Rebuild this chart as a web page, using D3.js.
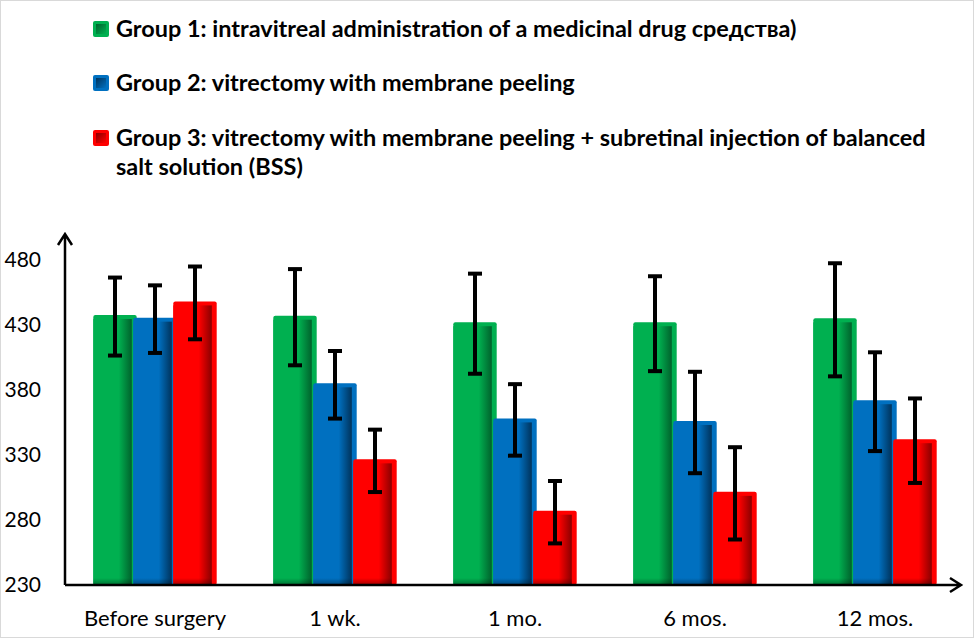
<!DOCTYPE html>
<html>
<head>
<meta charset="utf-8">
<script src="https://cdn.jsdelivr.net/npm/d3@7"></script>
<style>
  body { margin: 0; background: #fff; }
  svg { display: block; font-family: Lato, "Open Sans", sans-serif; }
</style>
</head>
<body>
<svg id="chart"></svg>
<script>
const categories = ["Before surgery", "1 wk.", "1 mo.", "6 mos.", "12 mos."];
const group1 = [436.5, 436, 431, 431, 434];
const group1Err = [30, 37, 38.5, 36.5, 43.5];
const group2 = [434.5, 384, 357, 355, 371];
const group2Err = [26, 26, 27.5, 39, 38];
const group3 = [447, 325.5, 286, 300.5, 341];
const group3Err = [28, 24, 24, 35.5, 32.5];
const yTicks = [230, 280, 330, 380, 430, 480];

const seriesNames = [
    ["Group 1: intravitreal administration of a medicinal drug средства)"],
    ["Group 2: vitrectomy with membrane peeling"],
    ["Group 3: vitrectomy with membrane peeling + subretinal injection of balanced", "salt solution (BSS)"]
];
const colors = ["#00B050", "#0070C0", "#FF0000"];
const darks = ["#00622c", "#00335c", "#8a0000"];

const series = [
    { key: "g1", values: group1, errs: group1Err },
    { key: "g2", values: group2, errs: group2Err },
    { key: "g3", values: group3, errs: group3Err }
];

const svgWidth = 976, svgHeight = 639;
const svg = d3.select("#chart")
    .attr("width", svgWidth)
    .attr("height", svgHeight);

// gradients for the bevelled bars
const defs = svg.append("defs");
series.forEach((s, i) => {
    const g = defs.append("linearGradient")
        .attr("id", "side" + i)
        .attr("x1", "0%").attr("x2", "100%").attr("y1", "0%").attr("y2", "0%");
    g.append("stop").attr("offset", "0%").attr("stop-color", colors[i]);
    g.append("stop").attr("offset", "66%").attr("stop-color", colors[i]);
    g.append("stop").attr("offset", "100%").attr("stop-color", darks[i]);

    const m = defs.append("linearGradient")
        .attr("id", "mark" + i)
        .attr("x1", "0%").attr("x2", "100%").attr("y1", "0%").attr("y2", "100%");
    m.append("stop").attr("offset", "0%").attr("stop-color", darks[i]);
    m.append("stop").attr("offset", "100%").attr("stop-color", colors[i]);
});
const foot = defs.append("linearGradient")
    .attr("id", "foot")
    .attr("x1", "0%").attr("x2", "0%").attr("y1", "0%").attr("y2", "100%");
foot.append("stop").attr("offset", "0%").attr("stop-color", "#000").attr("stop-opacity", 0);
foot.append("stop").attr("offset", "100%").attr("stop-color", "#000").attr("stop-opacity", 0.35);

// chart border
svg.append("rect")
    .attr("x", 0.5).attr("y", 0.5)
    .attr("width", svgWidth - 3).attr("height", svgHeight - 2)
    .attr("fill", "none")
    .attr("stroke", "#d9d9d9");

const x0 = d3.scaleBand()
    .domain(categories)
    .range([65, 965])
    .paddingInner(1 / 3)
    .paddingOuter(1 / 6);

const x1 = d3.scaleBand()
    .domain(series.map(s => s.key))
    .range([0, x0.bandwidth()]);

const y = d3.scaleLinear()
    .domain([230, 480])
    .range([585, 260]);

// y tick labels
svg.append("g")
    .attr("transform", "translate(65,0)")
    .call(d3.axisLeft(y).tickValues(yTicks).tickSize(0).tickPadding(24))
    .call(g => g.select(".domain").remove())
    .selectAll("text")
    .attr("font-family", "Lato, sans-serif")
    .attr("font-size", 21)
    .attr("fill", "#000");

// x labels
svg.append("g")
    .attr("transform", "translate(0,585)")
    .call(d3.axisBottom(x0).tickSize(0).tickPadding(25))
    .call(g => g.select(".domain").remove())
    .selectAll("text")
    .attr("font-family", "Lato, sans-serif")
    .attr("font-size", 22)
    .attr("fill", "#000");

// bars
const over = 1.7;
const groups = svg.append("g")
    .selectAll("g")
    .data(categories)
    .join("g")
    .attr("transform", d => "translate(" + x0(d) + ",0)");

series.forEach((s, i) => {
    const bar = groups.append("g");
    bar.append("rect")
        .attr("x", x1(s.key) - over)
        .attr("y", (d, j) => y(s.values[j]) - 1.5)
        .attr("width", x1.bandwidth() + 2 * over)
        .attr("height", (d, j) => y(230) - y(s.values[j]) + 1.5)
        .attr("rx", 2)
        .attr("fill", colors[i]);
    bar.append("rect")
        .attr("x", x1(s.key) - over)
        .attr("y", (d, j) => y(s.values[j]) + 2.5)
        .attr("width", x1.bandwidth() - 1.5)
        .attr("height", (d, j) => y(230) - y(s.values[j]) - 2.5)
        .attr("fill", "url(#side" + i + ")");
    bar.append("rect")
        .attr("x", x1(s.key) - over)
        .attr("y", y(230) - 7)
        .attr("width", x1.bandwidth() - 1.5)
        .attr("height", 7)
        .attr("fill", "url(#foot)");
});

// error bars
series.forEach((s, i) => {
    const cx = x1(s.key) + x1.bandwidth() / 2;
    const eb = groups.append("g")
        .attr("stroke", "#000")
        .attr("stroke-width", 4);
    eb.append("line")
        .attr("x1", cx).attr("x2", cx)
        .attr("y1", (d, j) => y(s.values[j] + s.errs[j]))
        .attr("y2", (d, j) => y(s.values[j] - s.errs[j]));
    eb.append("line")
        .attr("x1", cx - 7).attr("x2", cx + 7)
        .attr("y1", (d, j) => y(s.values[j] + s.errs[j]))
        .attr("y2", (d, j) => y(s.values[j] + s.errs[j]));
    eb.append("line")
        .attr("x1", cx - 7).attr("x2", cx + 7)
        .attr("y1", (d, j) => y(s.values[j] - s.errs[j]))
        .attr("y2", (d, j) => y(s.values[j] - s.errs[j]));
});

// axes with arrows
const axes = svg.append("g")
    .attr("fill", "none")
    .attr("stroke", "#000")
    .attr("stroke-width", 2.5);
axes.append("path")
    .attr("d", "M65," + y(230) + "V234 M58,245 L65,234 L72,245");
axes.append("path")
    .attr("d", "M65," + y(230) + "H961 M950,578 L961,585 L950,592");

// legend
const rowY = [37, 91, 146];
const legend = svg.append("g");
seriesNames.forEach((lines, i) => {
    const row = legend.append("g");
    row.append("rect")
        .attr("x", 93).attr("y", rowY[i] - 16)
        .attr("width", 16).attr("height", 16)
        .attr("rx", 2)
        .attr("fill", colors[i]);
    row.append("rect")
        .attr("x", 96).attr("y", rowY[i] - 13)
        .attr("width", 10).attr("height", 10)
        .attr("fill", "url(#mark" + i + ")");
    lines.forEach((t, k) => {
        row.append("text")
            .attr("class", "legend-text")
            .attr("x", 116)
            .attr("y", rowY[i] + k * 28.5)
            .attr("font-weight", "bold")
            .attr("font-size", 22)
            .text(t);
    });
});

// fit legend font to the first line's width
const first = legend.select(".legend-text").node();
const len = first.getComputedTextLength();
const size = 22 * 681 / len;
legend.selectAll(".legend-text").attr("font-size", size);
</script>
</body>
</html>
